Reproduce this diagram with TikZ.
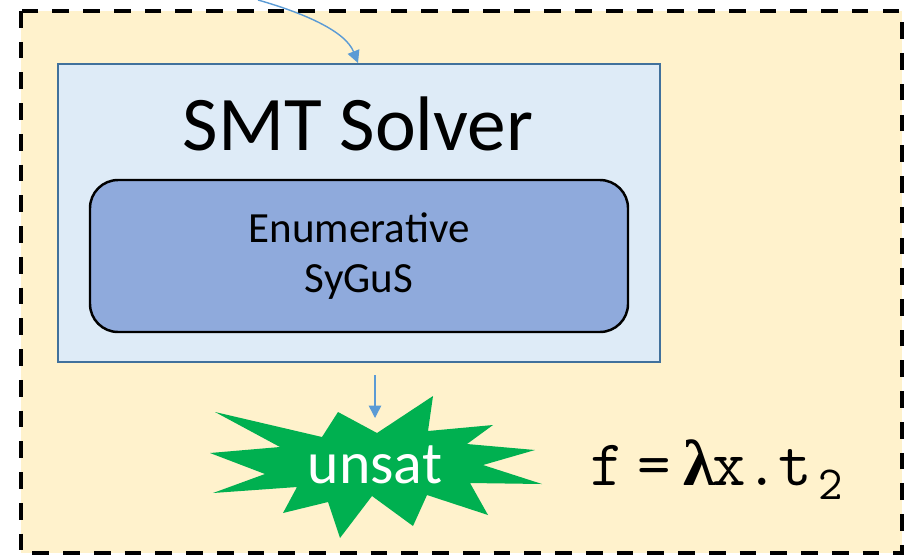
\documentclass[tikz,border=0pt]{standalone}
\usepackage{fontspec}
\setmainfont{Carlito}
\newfontfamily\lamfont{Liberation Serif}
\usetikzlibrary{arrows.meta}
\definecolor{boxyellow}{HTML}{FFF2CC}
\definecolor{smtfill}{HTML}{DEEBF7}
\definecolor{smtline}{HTML}{41719C}
\definecolor{enumfill}{HTML}{8FAADC}
\definecolor{burstgreen}{HTML}{00B050}
\definecolor{flowblue}{HTML}{5B9BD5}
\tikzset{
  flow/.style={draw=flowblue, line width=0.8pt, -{Triangle[width=7pt,length=7pt]}},
}
\begin{document}
\begin{tikzpicture}[x=0.02cm, y=-0.02cm]
      \useasboundingbox (0,0) rectangle (911,555);
      \draw[fill=boxyellow, line width=2.3pt, dash pattern=on 9.5pt off 8pt]
            (21,11) rectangle (902,553);
      \draw[fill=smtfill, draw=smtline, line width=1.1pt]
            (58,64) rectangle (660,362) node (smt) [pos=.5] {};
      \draw[fill=enumfill, line width=1.4pt, rounded corners=16pt]
            (90,180) rectangle (628,332) node (enum) [pos=.5, align=center,
              font=\fontsize{24.5}{28.5}\selectfont] {Enumerative\\SyGuS};
      \node (title) [anchor=base, font=\fontsize{44}{53}\selectfont] at (358,150) {SMT Solver};
      % explosion shape
      \fill[burstgreen] (215,412) -- (322,437) -- (338,412) -- (377,433) -- (433,396)
            -- (428,431) -- (493,425) -- (467,444) -- (535,450) -- (483,465)
            -- (542,484) -- (470,483) -- (488,515) -- (427,495) -- (413,526)
            -- (372,496) -- (340,538) -- (328,502) -- (283,513) -- (297,487)
            -- (213,493) -- (265,474) -- (210,453) -- (280,447) -- cycle;
      \node (unsat) [anchor=base, text=white, font=\fontsize{34}{40}\selectfont] at (375,483) {unsat};
      \node (lam) [anchor=base west, inner sep=0pt, font=\fontsize{37}{44}\selectfont\ttfamily] at (590,485)
            {f\hspace{.21em}=\hspace{.2em}{\lamfont\bfseries λ}\hspace{-.06em}x.t\hspace{.1em}\raisebox{-.23em}{\fontsize{27}{27}\selectfont 2}};
      \coordinate (feed) at (258,0);
      \coordinate (smttop) at (358,63);
      \coordinate (smtout) at (375,375);
      \coordinate (burstin) at (375,418);
      \draw[flow] (feed) .. controls (300,12) and (345,30) .. (smttop);
      \draw[flow] (smtout) -- (burstin);
\end{tikzpicture}
\end{document}
